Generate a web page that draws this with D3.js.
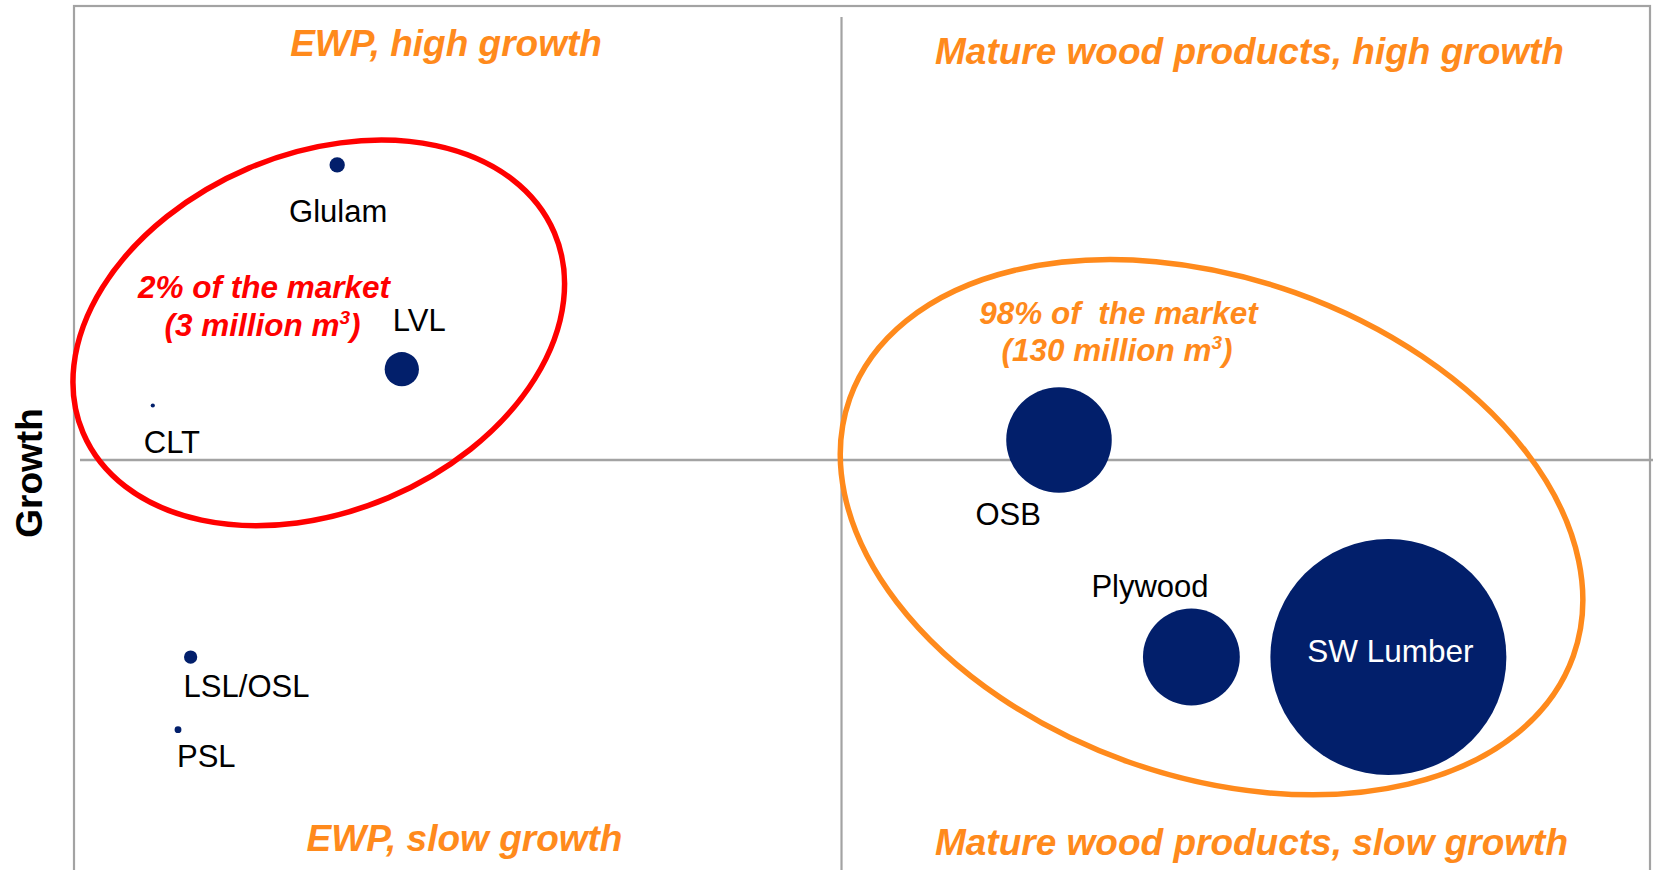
<!DOCTYPE html>
<html>
<head>
<meta charset="utf-8">
<script src="https://cdn.jsdelivr.net/npm/d3@7"></script>
<style>
  body { margin: 0; background: #fff; }
  svg { display: block; font-family: "Liberation Sans", Arial, sans-serif; }
  text { white-space: pre; }
</style>
</head>
<body>
<svg id="chart"></svg>
<script>
// products and values
var products = ["Glulam", "LVL", "CLT", "LSL/OSL", "PSL", "OSB", "Plywood", "SW Lumber"];
var maturity = [16.7, 20.8, 5.0, 7.4, 6.6, 62.5, 70.9, 83.4];
var growth   = [82.5, 60.0, 56.0, 28.3, 20.3, 52.2, 28.3, 28.3];
var volume   = [0.4, 2.0, 0.03, 0.3, 0.08, 19, 16, 95];   // million m3

var quadrantTitles = ["EWP, high growth", "Mature wood products, high growth",
                      "EWP, slow growth", "Mature wood products, slow growth"];
var groupShare  = ["2% of the market", "98% of  the market"];
var groupVolume = ["(3 million m", "(130 million m"];
var xSplit = 48.7, ySplit = 50;

var width = 1653,
    height = 870;

var svg = d3.select("#chart")
    .attr("width", width)
    .attr("height", height);

var x = d3.scaleLinear().domain([0, 100]).range([74, 1650]);
var y = d3.scaleLinear().domain([0, 100]).range([914, 6]);
var r = d3.scaleSqrt().domain([0, 95]).range([0, 118]);

var grey = "#a3a3a3", orange = "#ff8a1c", navy = "#021f6b";

// frame + quadrant lines
svg.append("rect")
    .attr("x", x(0)).attr("y", y(100))
    .attr("width", x(100) - x(0)).attr("height", y(0) - y(100))
    .attr("fill", "none").attr("stroke", grey).attr("stroke-width", 2.2);

svg.append("line")
    .attr("x1", x(xSplit)).attr("x2", x(xSplit))
    .attr("y1", 17).attr("y2", height)
    .attr("stroke", grey).attr("stroke-width", 2.2);

svg.append("line")
    .attr("x1", 80).attr("x2", width)
    .attr("y1", y(ySplit)).attr("y2", y(ySplit))
    .attr("stroke", grey).attr("stroke-width", 2.4);

// y axis title
svg.append("text")
    .attr("transform", "translate(42,473) rotate(-90)")
    .attr("text-anchor", "middle")
    .attr("font-size", 37).attr("font-weight", "bold")
    .attr("fill", "#000")
    .text("Growth");

// quadrant titles
var titlePos = [[446, 56], [1249.5, 63.5], [464.5, 851], [1251.5, 855]];
svg.selectAll("text.quad")
    .data(quadrantTitles)
  .enter().append("text")
    .attr("class", "quad")
    .attr("x", function(d, i) { return titlePos[i][0]; })
    .attr("y", function(d, i) { return titlePos[i][1]; })
    .attr("text-anchor", "middle")
    .attr("font-size", 37).attr("font-weight", "bold").attr("font-style", "italic")
    .attr("fill", orange)
    .text(function(d) { return d; });

// bubbles
var data = products.map(function(name, i) {
  return {name: name, x: maturity[i], y: growth[i], v: volume[i]};
});

svg.append("g").selectAll("circle")
    .data(data)
  .enter().append("circle")
    .attr("cx", function(d) { return x(d.x); })
    .attr("cy", function(d) { return y(d.y); })
    .attr("r", function(d) { return r(d.v); })
    .attr("fill", navy);

// label offsets from bubble centre
var labelPos = {
  "Glulam":    {dx: 1,    dy: 57,   anchor: "middle"},
  "LVL":       {dx: -9,   dy: -38,  anchor: "start"},
  "CLT":       {dx: -9,   dy: 47.5, anchor: "start"},
  "LSL/OSL":   {dx: -7,   dy: 39.5, anchor: "start"},
  "PSL":       {dx: -1,   dy: 37,   anchor: "start"},
  "OSB":       {dx: -83.5, dy: 85,  anchor: "start"},
  "Plywood":   {dx: -100, dy: -60.5, anchor: "start"},
  "SW Lumber": {dx: 2,    dy: 4.5,  anchor: "middle"}
};

svg.append("g").selectAll("text")
    .data(data)
  .enter().append("text")
    .attr("x", function(d) { return x(d.x) + labelPos[d.name].dx; })
    .attr("y", function(d) { return y(d.y) + labelPos[d.name].dy; })
    .attr("text-anchor", function(d) { return labelPos[d.name].anchor; })
    .attr("font-size", function(d) { return d.name == "SW Lumber" ? 31.5 : 31; })
    .attr("fill", function(d) { return d.name == "SW Lumber" ? "#fff" : "#000"; })
    .text(function(d) { return d.name; });

// group ellipses
var groups = [
  {cx: 15.53, cy: 64.0, rx: 256, ry: 179, rot: -23, color: "#ff0000", tx: 264, ty: 298.3},
  {cx: 72.18, cy: 42.6, rx: 384, ry: 249, rot: 19.6, color: orange, tx: 1118.5, ty: 323.7}
];

groups.forEach(function(g, i) {
  svg.append("ellipse")
      .attr("transform", "translate(" + x(g.cx) + "," + y(g.cy) + ") rotate(" + g.rot + ")")
      .attr("rx", g.rx).attr("ry", g.ry)
      .attr("fill", "none")
      .attr("stroke", g.color).attr("stroke-width", 5.5);

  var t = svg.append("text")
      .attr("text-anchor", "middle")
      .attr("font-size", 31.5).attr("font-weight", "bold").attr("font-style", "italic")
      .attr("fill", g.color);
  t.append("tspan").attr("x", g.tx).attr("y", g.ty).text(groupShare[i]);
  var l2 = t.append("tspan").attr("x", g.tx - 1.5).attr("y", g.ty + 37.5);
  l2.append("tspan").text(groupVolume[i]);
  l2.append("tspan").attr("font-size", 19).attr("dy", -12).text("3");
  l2.append("tspan").attr("dy", 12).text(")");
});
</script>
</body>
</html>
